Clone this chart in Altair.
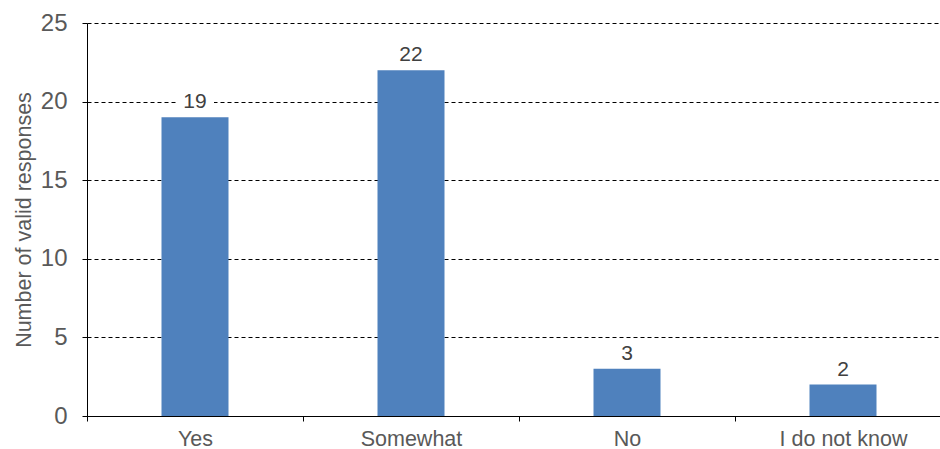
import altair as alt
import pandas as pd

# Survey answers and their counts
categories = ["Yes", "Somewhat", "No", "I do not know"]
responses = [19, 22, 3, 2]

df = pd.DataFrame({"answer": categories, "count": responses})

FONT = "Liberation Sans"
BAR_BLUE = "#4F81BD"
LABEL_GREY = "#595959"

x_enc = alt.X(
    "answer:N",
    sort=categories,
    scale=alt.Scale(range=[0, 864], paddingInner=0, paddingOuter=0),
    axis=alt.Axis(
        title=None,
        labelAngle=0,
        tickBand="extent",
        tickSize=5,
        tickColor="black",
        domainColor="black",
        labelFontSize=21.5,
        labelColor=LABEL_GREY,
        labelPadding=7,
        grid=False,
        zindex=1,
    ),
)

y_enc = alt.Y(
    "count:Q",
    scale=alt.Scale(domain=[0, 25], nice=False),
    axis=alt.Axis(
        values=[0, 5, 10, 15, 20, 25],
        grid=True,
        gridDash=[4, 3],
        gridColor="black",
        gridOpacity=1,
        gridWidth=1,
        domainColor="black",
        tickColor="black",
        tickSize=5,
        labelFontSize=24,
        labelColor=LABEL_GREY,
        labelPadding=15,
        title="Number of valid responses",
        titleFontSize=21.5,
        titleFontWeight="normal",
        titleColor=LABEL_GREY,
        titleX=-57,
        titleBaseline="alphabetic",
    ),
)

base = alt.Chart(df).encode(x=x_enc, y=y_enc)

bars = base.mark_bar(width=67, color=BAR_BLUE)

# white plate behind each value label so gridlines do not run through it
plates = base.mark_point(
    shape="M-1,-0.58L1,-0.58L1,0.58L-1,0.58Z",
    size=38 * 38,
    filled=True,
    color="white",
    opacity=1,
    strokeWidth=0,
    yOffset=-16,
)

labels = base.mark_text(
    dy=-9,
    baseline="alphabetic",
    fontSize=21,
    color="#404040",
    font=FONT,
).encode(text="count:Q")

chart = (
    alt.layer(bars, plates, labels)
    .properties(
        width=853,
        height=393,
        autosize=alt.AutoSizeParams(type="none"),
        padding={"left": 87, "top": 23, "right": 0, "bottom": 33},
    )
    .configure(font=FONT, background="white")
    .configure_view(stroke=None)
)

chart.save("out.html", embed_options={"renderer": "svg", "actions": False})
